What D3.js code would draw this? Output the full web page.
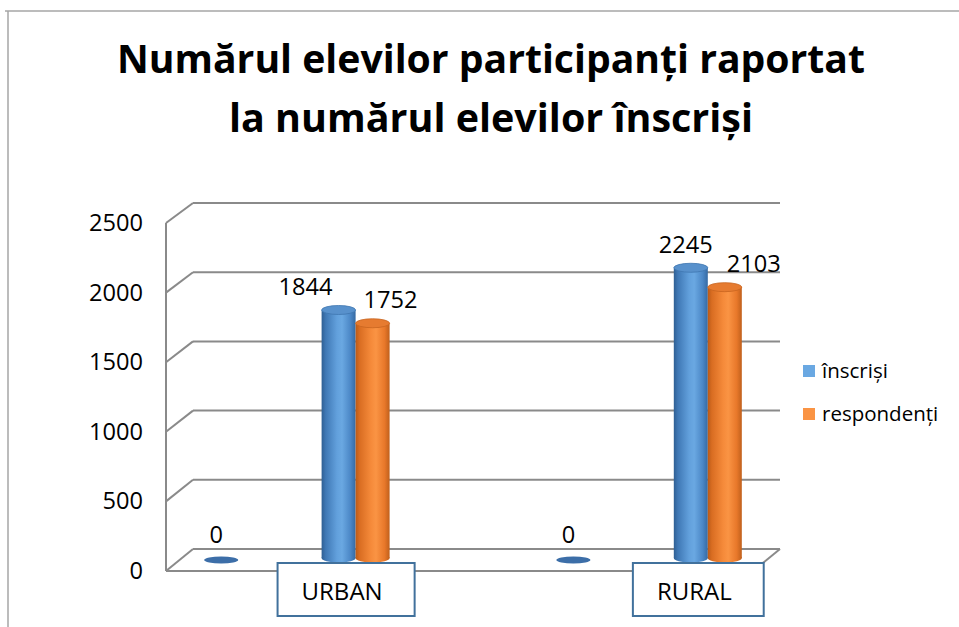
<!DOCTYPE html>
<html>
<head>
<meta charset="utf-8">
<script src="https://cdn.jsdelivr.net/npm/d3@7"></script>
<style>
  html, body { margin: 0; padding: 0; background: #fff; }
  svg { display: block; font-family: "Open Sans", "Noto Sans", sans-serif; }
</style>
</head>
<body>
<svg id="chart" width="959" height="627"></svg>
<script>
// ---- data ----
const titleLines = ["Numărul elevilor participanți raportat", "la numărul elevilor înscriși"];
const categories = ["", "URBAN", "", "", "RURAL"];
const seriesNames = ["înscriși", "respondenți"];
const inscrisi = [0, 1844, null, 0, 2245];
const respondenti = [null, 1752, null, null, 2103];
const yTicks = [0, 500, 1000, 1500, 2000, 2500];
// ---- layout / style (not data) ----
const labelDx = [[-5, 0], [-33, 18], [0, 0], [-5, 0], [-5, 29]];
const colors = {
  blue: { stops: ["#2f5f93", "#3f78b5", "#62a0dc", "#6aa8e2", "#4b87c6", "#356aa3"], top: "#5891cc", edge: "#3f76b0" },
  orange: { stops: ["#b95a18", "#d96d22", "#f58a3a", "#fa9444", "#e8782a", "#c0601c"], top: "#e67b30", edge: "#c8641f" }
};
const seriesColor = ["blue", "orange"];

const svg = d3.select("#chart");
const defs = svg.append("defs");
Object.entries(colors).forEach(([k, c]) => {
  const g = defs.append("linearGradient").attr("id", "g-" + k).attr("x1", 0).attr("x2", 1).attr("y1", 0).attr("y2", 0);
  const offs = [0, 0.12, 0.45, 0.6, 0.85, 1];
  c.stops.forEach((s, i) => g.append("stop").attr("offset", offs[i]).attr("stop-color", s));
});

// frame
svg.append("line").attr("x1", 5).attr("x2", 959).attr("y1", 11).attr("y2", 11).attr("stroke", "#a6a6a6").attr("stroke-width", 1.5);
svg.append("line").attr("x1", 8).attr("x2", 8).attr("y1", 11).attr("y2", 627).attr("stroke", "#a6a6a6").attr("stroke-width", 1.5);

// title
const titleLen = [748, 524];
titleLines.forEach((t, i) => {
  svg.append("text").attr("x", 491).attr("y", 73 + i * 59).attr("text-anchor", "middle")
    .attr("font-size", 40).attr("font-weight", 700).attr("fill", "#000")
    .attr("textLength", titleLen[i]).attr("lengthAdjust", "spacingAndGlyphs").text(t);
});

// 3D geometry
const DX = 27, DY = -22;
const yFront = d3.scaleLinear().domain([0, 2500]).range([571, 223]);
const yBack = d3.scaleLinear().domain([0, 2500]).range([549, 203]);
const xFront = d3.scaleBand().domain(d3.range(categories.length)).range([166, 753]).paddingInner(0).paddingOuter(0);
const xMid = i => xFront(i) + xFront.bandwidth() / 2 + DX / 2;
const backRight = 753 + DX;
const gridColor = "#8a8a8a";

const grid = svg.append("g").attr("stroke", gridColor).attr("stroke-width", 2).attr("fill", "none");
yTicks.forEach(v => {
  grid.append("line").attr("x1", 166 + DX).attr("x2", backRight).attr("y1", yBack(v)).attr("y2", yBack(v));
  grid.append("line").attr("x1", 166).attr("x2", 166 + DX).attr("y1", yFront(v)).attr("y2", yBack(v));
});
grid.append("line").attr("x1", 166).attr("x2", 166).attr("y1", yFront(2500)).attr("y2", yFront(0));
grid.append("line").attr("x1", 166).attr("x2", 753).attr("y1", yFront(0)).attr("y2", yFront(0));
grid.append("line").attr("x1", 753).attr("x2", 753 + DX).attr("y1", yFront(0)).attr("y2", yBack(0));

// y tick labels
svg.append("g").selectAll("text").data(yTicks).join("text")
  .attr("x", 143).attr("y", d => yFront(d) + 8).attr("text-anchor", "end")
  .attr("font-size", 23).attr("fill", "#000")
  .attr("textLength", d => String(d).length * 13.5).attr("lengthAdjust", "spacingAndGlyphs").text(d => d);

// bars (cylinders)
const base = 558;
const yBar = d3.scaleLinear().domain([0, 2500]).range([base, base - 2500 * 0.1345]);
const persp = x => 1 - 0.00011 * (x - 338);
const RX = 17, RY = 4.5;
const barsG = svg.append("g");
const labelsG = svg.append("g").attr("font-size", 23).attr("fill", "#000").attr("text-anchor", "middle");
[inscrisi, respondenti].forEach((vals, s) => {
  const c = colors[seriesColor[s]];
  vals.forEach((v, i) => {
    if (v === null) return;
    const cx = xMid(i) + (s === 0 ? -RX : RX);
    const h = (base - yBar(v)) * persp(cx);
    const top = base - h;
    if (v === 0) {
      barsG.append("ellipse").attr("cx", cx).attr("cy", base + 2).attr("rx", RX).attr("ry", 3.5).attr("fill", "#3c6ea8");
    } else {
      barsG.append("ellipse").attr("cx", cx).attr("cy", base).attr("rx", RX).attr("ry", RY).attr("fill", `url(#g-${seriesColor[s]})`);
      barsG.append("rect").attr("x", cx - RX).attr("y", top).attr("width", 2 * RX).attr("height", h).attr("fill", `url(#g-${seriesColor[s]})`);
      barsG.append("ellipse").attr("cx", cx).attr("cy", top).attr("rx", RX).attr("ry", RY)
        .attr("fill", c.top).attr("stroke", c.edge).attr("stroke-width", 0.8);
    }
    labelsG.append("text").attr("x", cx + labelDx[i][s]).attr("y", top - 15)
      .attr("textLength", String(v).length * 13.5).attr("lengthAdjust", "spacingAndGlyphs").text(v);
  });
});

// category label boxes
const catG = svg.append("g");
categories.forEach((name, i) => {
  if (!name) return;
  const cx = xFront(i) + xFront.bandwidth() / 2;
  const t = catG.append("text").attr("x", cx).attr("y", 600).attr("text-anchor", "middle")
    .attr("font-size", 24).attr("fill", "#000").text(name);
  const bb = t.node().getBBox();
  catG.insert("rect", "text").attr("x", bb.x - 24).attr("y", 563).attr("width", bb.width + 56).attr("height", 53)
    .attr("fill", "#fff").attr("stroke", "#41719c").attr("stroke-width", 2);
});

// legend
const leg = svg.append("g");
seriesNames.forEach((n, i) => {
  leg.append("rect").attr("x", 803).attr("y", 365 + i * 43).attr("width", 12).attr("height", 12).attr("fill", colors[seriesColor[i]].stops[3]);
  leg.append("text").attr("x", 822).attr("y", 378 + i * 43).attr("font-size", 20.5).attr("fill", "#000").text(n);
});
</script>
</body>
</html>
